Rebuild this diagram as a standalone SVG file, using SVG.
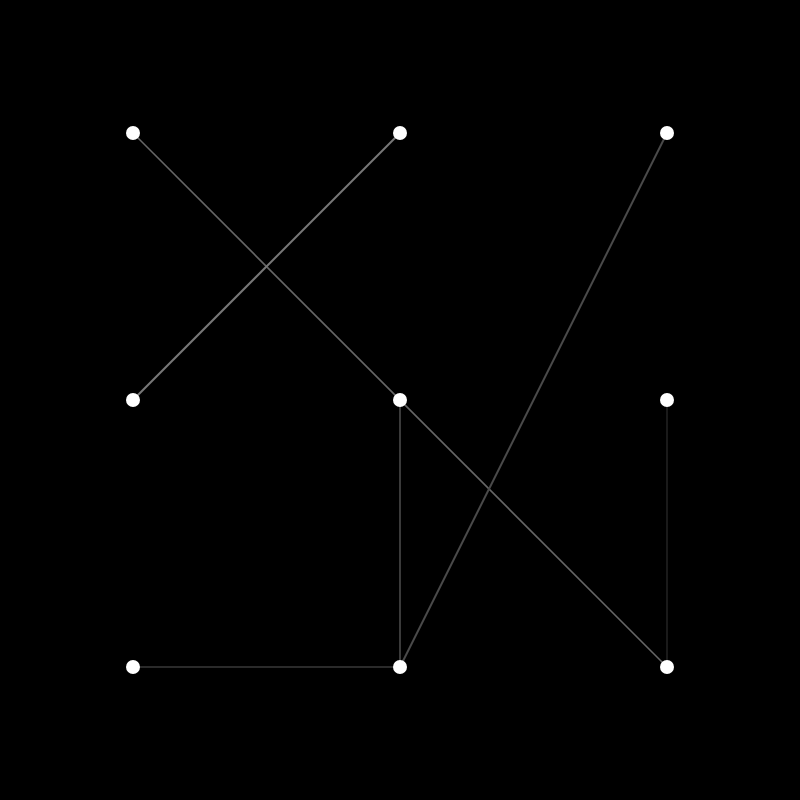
<svg xmlns="http://www.w3.org/2000/svg" width="800" height="800" viewBox="0 0 800 800">
<style>
.node{fill:#ffffff}
.e{fill:none;stroke-linecap:butt}
</style>
<rect x="0" y="0" width="800" height="800" fill="#000000"/>
<g id="connectors">
<line class="e" x1="133" y1="133" x2="667" y2="667" stroke="#666666" stroke-width="1.6"/>
<line class="e" x1="400" y1="133" x2="133" y2="400" stroke="#777777" stroke-width="2"/>
<line class="e" x1="667" y1="133" x2="400" y2="667" stroke="#4a4a4a" stroke-width="2"/>
<line class="e" x1="400" y1="400" x2="400" y2="667" stroke="#3a3a3a" stroke-width="2"/>
<line class="e" x1="133" y1="667" x2="400" y2="667" stroke="#2a2a2a" stroke-width="2"/>
<line class="e" x1="667" y1="400" x2="667" y2="667" stroke="#1a1a1a" stroke-width="2"/>
</g>
<g id="n1"><circle class="node" cx="133" cy="133" r="7"/></g>
<g id="n2"><circle class="node" cx="400" cy="133" r="7"/></g>
<g id="n3"><circle class="node" cx="667" cy="133" r="7"/></g>
<g id="n4"><circle class="node" cx="133" cy="400" r="7"/></g>
<g id="n5"><circle class="node" cx="400" cy="400" r="7"/></g>
<g id="n6"><circle class="node" cx="667" cy="400" r="7"/></g>
<g id="n7"><circle class="node" cx="133" cy="667" r="7"/></g>
<g id="n8"><circle class="node" cx="400" cy="667" r="7"/></g>
<g id="n9"><circle class="node" cx="667" cy="667" r="7"/></g>
</svg>
